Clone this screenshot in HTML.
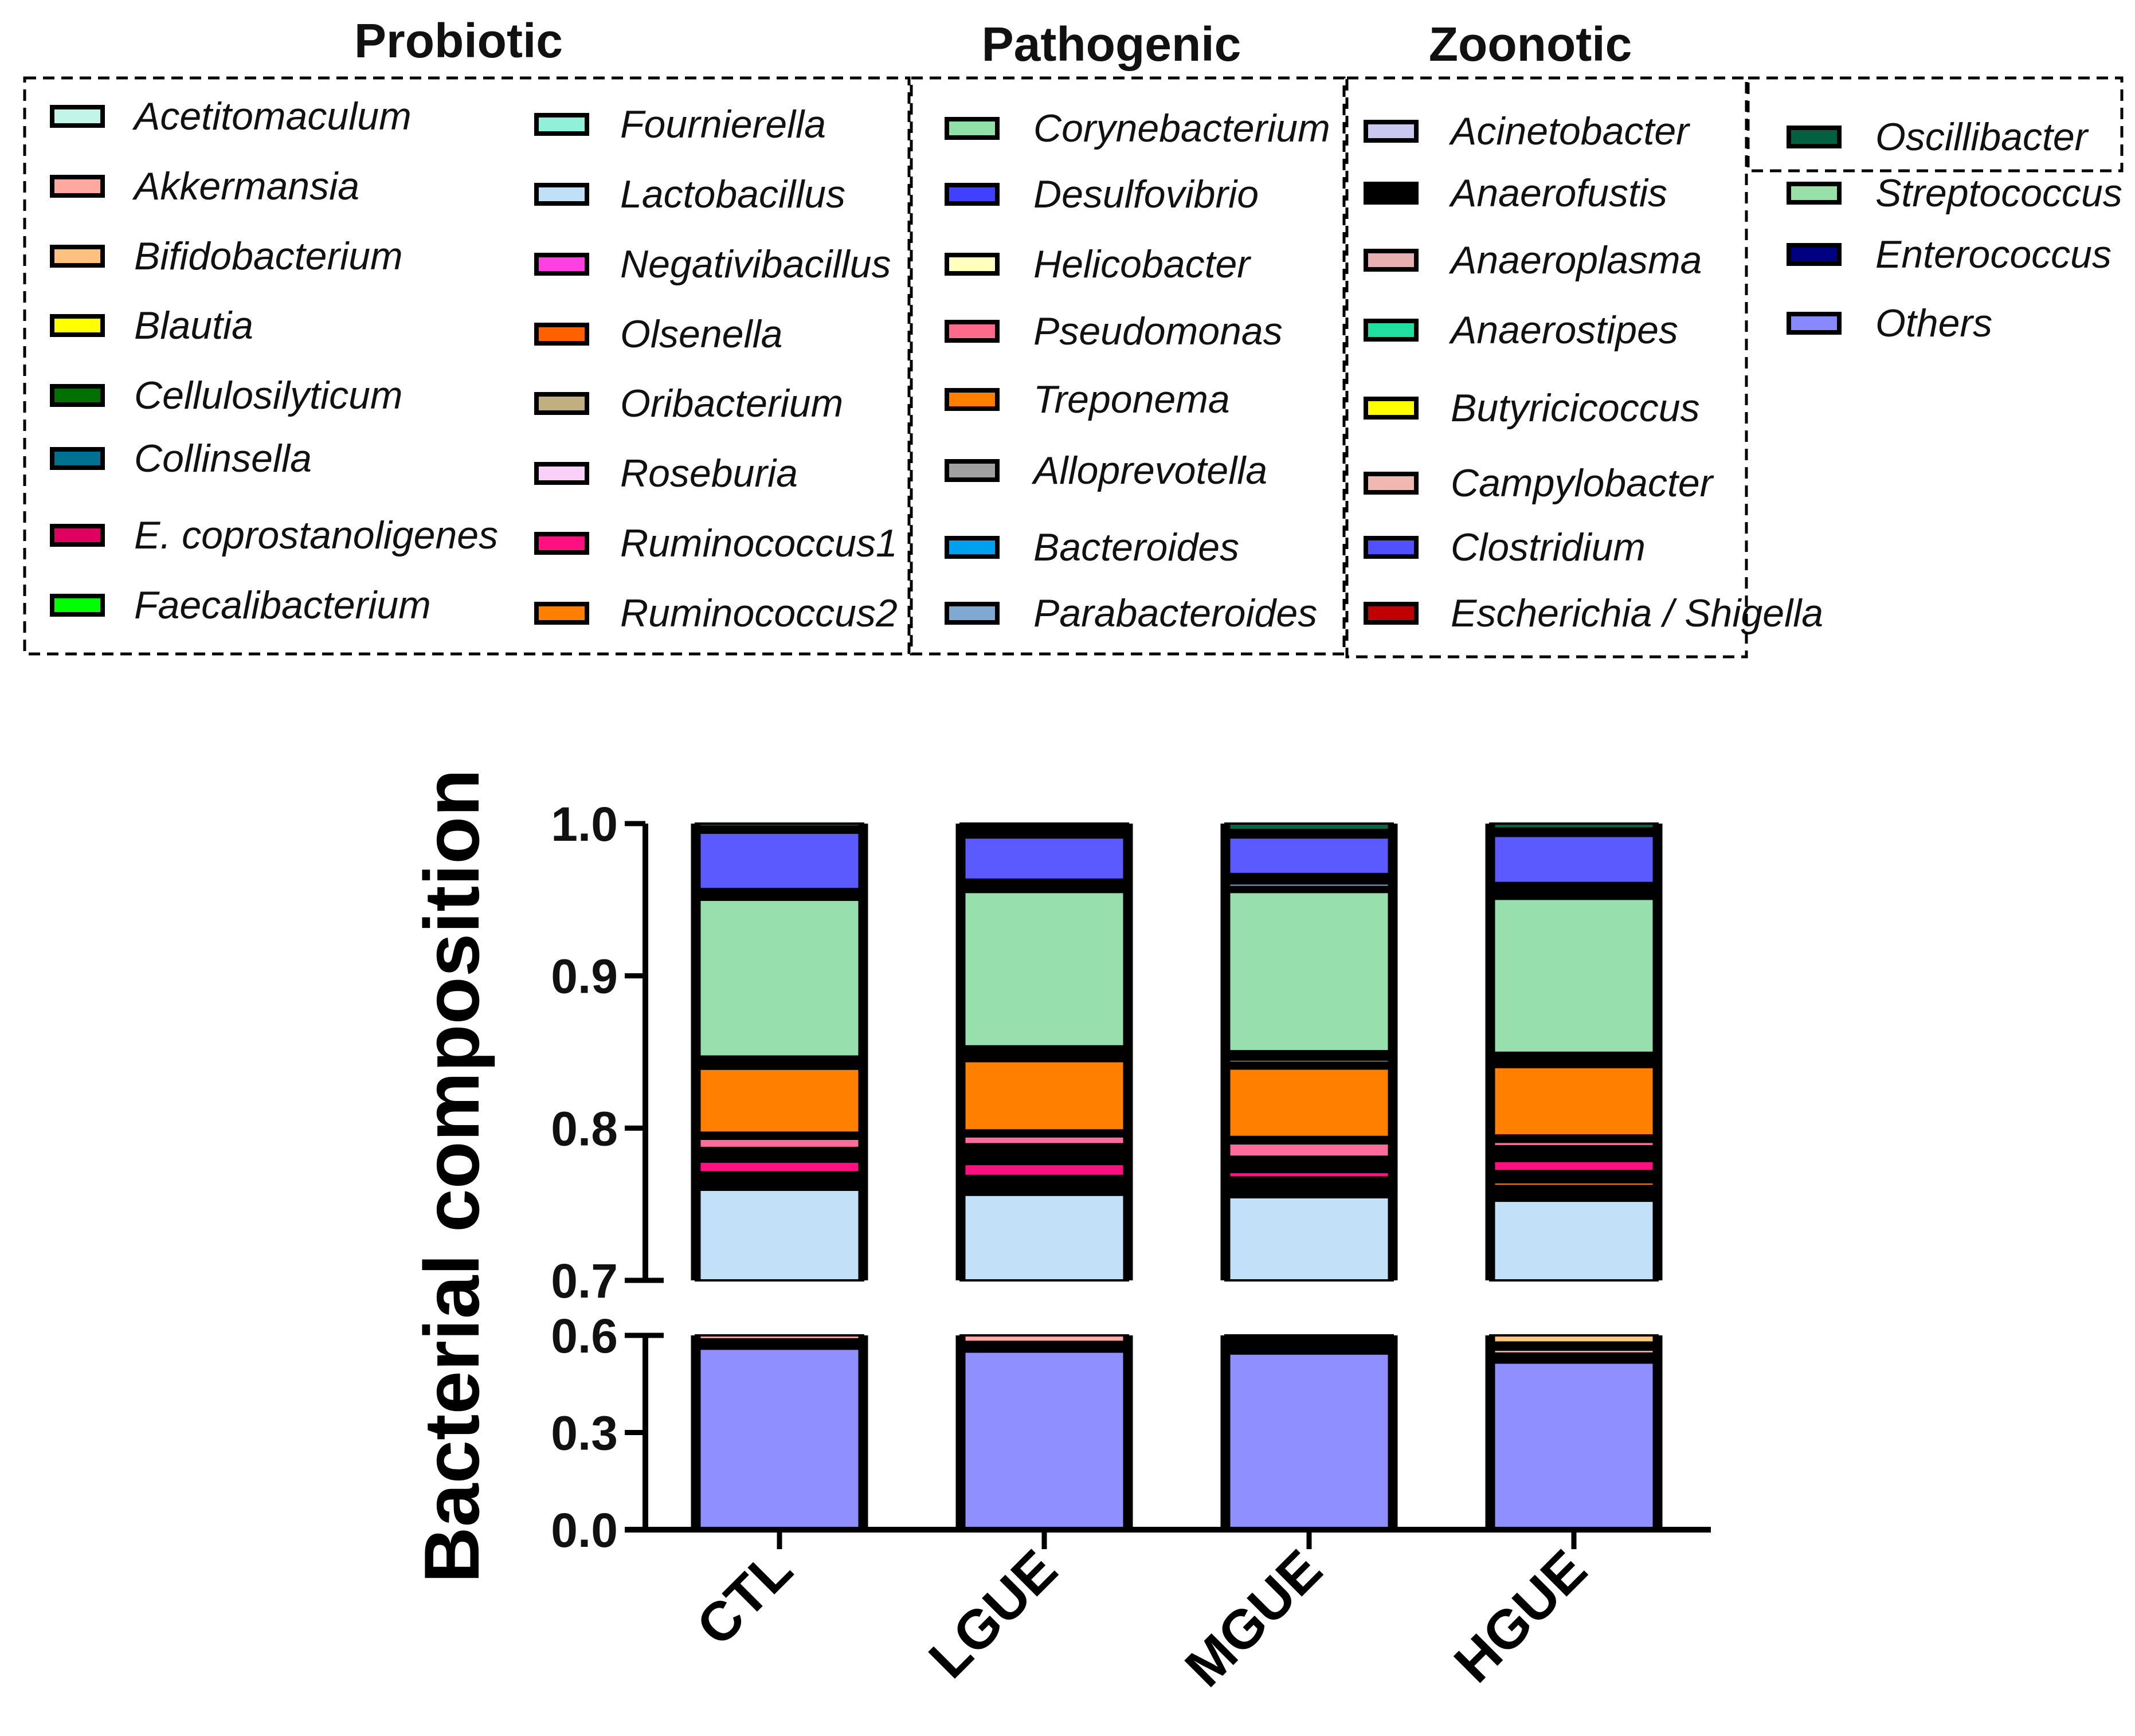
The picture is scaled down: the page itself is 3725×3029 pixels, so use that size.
<!DOCTYPE html>
<html><head><meta charset="utf-8"><style>
html,body{margin:0;padding:0;background:#fff;}
svg{display:block;}
text{font-family:"Liberation Sans",Arial,sans-serif;}
</style></head><body>
<svg id="chart" xmlns="http://www.w3.org/2000/svg" width="3725" height="3029" viewBox="0 0 3725 3029">
<rect width="3725" height="3029" fill="#fff"/>
<g id="legend"></g>
<g id="plot"></g>
</svg>
<script>
// ---- chart data ----
const categories = ["CTL","LGUE","MGUE","HGUE"];
const seriesNames = ["Others","Enterococcus","Akkermansia","Anaeroplasma","Bifidobacterium","Lactobacillus","Anaerofustis-a","Ruminococcus2","Anaerofustis-b","Ruminococcus1","Anaerofustis-c","Pseudomonas","Anaerofustis-d","Treponema","Anaerofustis-e","Alloprevotella","Anaerofustis-f","Streptococcus","Anaerofustis-g","Parabacteroides","Anaerofustis-h","Clostridium","Anaerofustis-i","Oscillibacter"];
const seriesColors = ["#8f8fff","#000000","#ffaaa6","#000000","#ffc680","#c2e0f8","#000000","#ff7f00","#000000","#ff1080","#000000","#ff6b9a","#000000","#ff8000","#000000","#a0a0a0","#000000","#97e0ae","#000000","#7fa6cc","#000000","#5a5aff","#000000","#006644"];
const vOthers = [0.559,0.550,0.544,0.516];
const vEntero = [0.029,0.030,0.053,0.028];
const vAkker = [0.012,0.020,0,0.012];
const vAnaeroplasma = [0,0,0,0.022];
const vBifido = [0,0,0.003,0.022];
const vLacto = [0.1595,0.1562,0.1546,0.1523];
const vBlackA = [0.0115,0.0124,0.013,0.0098];
const vRum2 = [0,0,0,0.0023];
const vBlackB = [0,0,0,0.0075];
const vRum1 = [0.007,0.0078,0.0036,0.0065];
const vBlackC = [0.009,0.013,0.01,0.0097];
const vPseud = [0.006,0.0052,0.0088,0.0029];
const vBlackD = [0.004,0.0039,0.0042,0.0042];
const vTrep = [0.042,0.0455,0.0449,0.0449];
const vBlackE = [0.008,0.0097,0.0039,0.0094];
const vAllo = [0,0,0.002,0];
const vBlackF = [0,0,0.0055,0];
const vStrep = [0.103,0.1014,0.1046,0.1011];
const vBlackG = [0.007,0.0081,0.0033,0.0104];
const vParab = [0,0,0.0023,0];
const vBlackH = [0,0,0.0062,0];
const vClost = [0.037,0.0277,0.024,0.0309];
const vBlackI = [0.004,0.0091,0.0049,0.0049];
const vOsc = [0.002,0,0.0042,0.0032];
const seriesValues = [vOthers,vEntero,vAkker,vAnaeroplasma,vBifido,vLacto,vBlackA,vRum2,vBlackB,vRum1,vBlackC,vPseud,vBlackD,vTrep,vBlackE,vAllo,vBlackF,vStrep,vBlackG,vParab,vBlackH,vClost,vBlackI,vOsc];
const upperTicks = [0.7,0.8,0.9,1.0];
const upperTickLabels = ["0.7","0.8","0.9","1.0"];
const lowerTicks = [0,0.3,0.6];
const lowerTickLabels = ["0.0","0.3","0.6"];

// ---- legend data ----
const legendProbiotic1 = [["Acetitomaculum","#c0f5e8"],["Akkermansia","#ffa8a0"],["Bifidobacterium","#ffc080"],["Blautia","#ffff00"],["Cellulosilyticum","#007000"],["Collinsella","#007090"],["E. coprostanoligenes","#e00060"],["Faecalibacterium","#00ff00"]];
const legendProbiotic2 = [["Fournierella","#90f0d8"],["Lactobacillus","#c0e0f8"],["Negativibacillus","#ff40e0"],["Olsenella","#ff6000"],["Oribacterium","#c0b080"],["Roseburia","#f8d0f8"],["Ruminococcus1","#ff1080"],["Ruminococcus2","#ff8000"]];
const legendPathogenic = [["Corynebacterium","#90e0a8"],["Desulfovibrio","#4040ff"],["Helicobacter","#ffffc0"],["Pseudomonas","#ff6b8a"],["Treponema","#ff8000"],["Alloprevotella","#a0a0a0"],["Bacteroides","#00a0f0"],["Parabacteroides","#80a8d0"]];
const legendZoonotic = [["Acinetobacter","#c8c8f0"],["Anaerofustis","#000000"],["Anaeroplasma","#e8b0b0"],["Anaerostipes","#20e0a0"],["Butyricicoccus","#ffff00"],["Campylobacter","#f0b8b0"],["Clostridium","#5050ff"],["Escherichia / Shigella","#c00000"]];
const legendOther = [["Oscillibacter","#006040"],["Streptococcus","#98e0a8"],["Enterococcus","#000080"],["Others","#8888ff"]];

const NS = "http://www.w3.org/2000/svg";
function mk(tag, attrs, parent){const e=document.createElementNS(NS,tag);for(const k in attrs)e.setAttribute(k,attrs[k]);parent.appendChild(e);return e;}
const plot = document.getElementById('plot');
const legend = document.getElementById('legend');

// ---- legend ----
function legendCol(items, sx, tx, ys){
  items.forEach((it,i)=>{
    const g = mk('g',{},legend);
    
    
    mk('rect',{x:sx,y:ys[i]-16,width:88,height:32,fill:it[1],stroke:'#000','stroke-width':8},g);
    const t = mk('text',{x:tx,y:ys[i]+23,'font-size':68,'font-style':'italic',fill:'#111'},g);
    t.textContent = it[0];
  });
}
legendCol(legendProbiotic1, 91, 234, [203,325,447,568,690,800,934,1056]);
legendCol(legendProbiotic2, 936, 1082, [217,339,461,583,704,826,948,1070]);
legendCol(legendPathogenic, 1652, 1803, [224,339,461,578,697,821,955,1070]);
legendCol(legendZoonotic, 2383, 2531, [229,337,454,576,712,843,955,1070]);
legendCol(legendOther, 3121, 3272, [239,337,444,564]);
function dbox(x,y,w,h,name){const r=mk('rect',{x:x,y:y,width:w,height:h,fill:'none',stroke:'#000','stroke-width':5,'stroke-dasharray':'20 12'},legend);}
dbox(43,136,1543,1005,'probiotic-box');
dbox(1590,136,755,1005,'pathogenic-box');
dbox(2350,136,697,1010,'zoonotic-box');
dbox(3050,136,652,162,'oscillibacter-box');
function title(x,y,s,name){const t=mk('text',{x:x,y:y,'font-size':84,'font-weight':'bold','text-anchor':'middle',fill:'#111'},legend);t.textContent=s;}
title(800,100,'Probiotic','probiotic-title');
title(1939,106,'Pathogenic','pathogenic-title');
title(2670,106,'Zoonotic','zoonotic-title');

// ---- axes functions ----
const UP_TOP=1437, UP_BOT=2234, LO_TOP=2330, LO_BOT=2669;
function yUpper(v){return UP_TOP + (1.0-v)/0.3*(UP_BOT-UP_TOP);}
function yLower(v){return LO_BOT - v/0.6*(LO_BOT-LO_TOP);}
const X0=1360, DX=462, BW=292;
function xCenter(i){return X0 + i*DX;}
const AX=1126;

// ---- bars ----
categories.forEach((c,ci)=>{
  const g = mk('g',{},plot);
  
  
  const xl = xCenter(ci)-BW/2;
  let cum=0;
  seriesValues.forEach((arr,si)=>{
    const v=arr[ci]; const a=cum, b=cum+v; cum=b;
    if(v<=0) return;
    const ua=Math.max(a,0.7), ub=Math.min(b,1.0);
    if(ub>ua){
      const r=mk('rect',{x:xl,y:yUpper(ub),width:BW,height:yUpper(ua)-yUpper(ub),fill:seriesColors[si],stroke:'#000','stroke-width':4},g);
      
      
    }
    const la=Math.max(a,0), lb=Math.min(b,0.6);
    if(lb>la){
      const r=mk('rect',{x:xl,y:yLower(lb),width:BW,height:yLower(la)-yLower(lb),fill:seriesColors[si],stroke:'#000','stroke-width':4},g);
      
      
    }
  });
  [xl, xl+BW].forEach(x=>{
    mk('line',{x1:x,y1:yUpper(Math.min(cum,1.0)),x2:x,y2:UP_BOT,stroke:'#000','stroke-width':17},g);
    mk('line',{x1:x,y1:LO_TOP,x2:x,y2:LO_BOT,stroke:'#000','stroke-width':17},g);
  });
  const tk=mk('line',{x1:xCenter(ci),y1:LO_BOT,x2:xCenter(ci),y2:LO_BOT+34,stroke:'#000','stroke-width':9},plot);
  
  
  const lx=xCenter(ci)+28, ly=2745;
  const t=mk('text',{x:lx,y:ly,'font-size':96,'font-weight':'bold','text-anchor':'end',fill:'#000',transform:'rotate(-45 '+lx+' '+ly+')'},plot);
  t.textContent=c;
  
  
});

// ---- y axis ----
const ya1=mk('line',{x1:AX,y1:UP_TOP,x2:AX,y2:UP_BOT,stroke:'#000','stroke-width':10},plot);


const ya2=mk('line',{x1:AX,y1:LO_TOP,x2:AX,y2:LO_BOT,stroke:'#000','stroke-width':10},plot);


const xa=mk('line',{x1:1090,y1:LO_BOT,x2:2985,y2:LO_BOT,stroke:'#000','stroke-width':10},plot);


upperTicks.forEach((v,i)=>{
  const y=yUpper(v);
  mk('line',{x1:1090,y1:y,x2:(v===0.7?1158:AX),y2:y,stroke:'#000','stroke-width':9},plot);
  const t=mk('text',{x:1078,y:y+30,'font-size':84,'font-weight':'bold','text-anchor':'end',fill:'#111'},plot);
  t.textContent=upperTickLabels[i];
  
  
});
lowerTicks.forEach((v,i)=>{
  const y=yLower(v);
  mk('line',{x1:1090,y1:y,x2:(v===0.6?1158:AX),y2:y,stroke:'#000','stroke-width':9},plot);
  const t=mk('text',{x:1078,y:y+30,'font-size':84,'font-weight':'bold','text-anchor':'end',fill:'#111'},plot);
  t.textContent=lowerTickLabels[i];
  
  
});
const yt=mk('text',{x:0,y:0,'font-size':136,'font-weight':'bold','text-anchor':'middle',fill:'#000',transform:'translate(835 2052) rotate(-90)'},plot);
yt.textContent='Bacterial composition';


</script>
</body></html>
